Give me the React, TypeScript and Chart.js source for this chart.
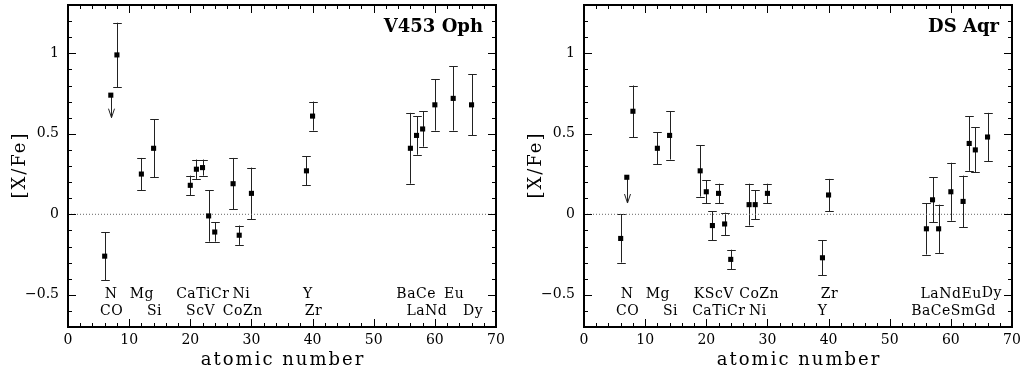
import React, { useEffect, useRef } from "react";
import { Chart, registerables } from "chart.js";

Chart.register(...registerables);

// ---------- axes ----------
const X_MIN = 0;
const X_MAX = 70;
const Y_MIN = -0.7;
const Y_MAX = 1.3;

// ---------- V453 Oph ----------
const ophDetZ = [6, 8, 12, 14, 20, 21, 22, 23, 24, 27, 28, 30, 39, 40, 56, 57, 58, 60, 63, 66];
const ophDetVal = [-0.26, 0.99, 0.25, 0.41, 0.18, 0.28, 0.29, -0.01, -0.11, 0.19, -0.13, 0.13, 0.27, 0.61, 0.41, 0.49, 0.53, 0.68, 0.72, 0.68];
const ophDetErr = [0.15, 0.2, 0.1, 0.18, 0.06, 0.06, 0.05, 0.16, 0.06, 0.16, 0.06, 0.16, 0.09, 0.09, 0.22, 0.12, 0.11, 0.16, 0.2, 0.19];
const ophLimZ = [7];
const ophLimVal = [0.74];
const ophLimTip = [0.6];
const ophLabText = ["N", "Mg", "CaTiCr", "Ni", "Y", "BaCe", "Eu", "CO", "Si", "ScV", "CoZn", "Zr", "LaNd", "Dy"];
const ophLabZ = [7.0, 12.05, 22.0, 28.3, 39.2, 56.9, 63.1, 7.1, 14.1, 21.65, 28.55, 40.1, 58.65, 66.2];
const ophLabY = [-0.5, -0.5, -0.5, -0.5, -0.5, -0.5, -0.5, -0.6, -0.6, -0.6, -0.6, -0.6, -0.6, -0.6];

// ---------- DS Aqr ----------
const aqrDetZ = [6, 8, 12, 14, 19, 20, 21, 22, 23, 24, 27, 28, 30, 39, 40, 56, 57, 58, 60, 62, 63, 64, 66];
const aqrDetVal = [-0.15, 0.64, 0.41, 0.49, 0.27, 0.14, -0.07, 0.13, -0.06, -0.28, 0.06, 0.06, 0.13, -0.27, 0.12, -0.09, 0.09, -0.09, 0.14, 0.08, 0.44, 0.4, 0.48];
const aqrDetErr = [0.15, 0.16, 0.1, 0.15, 0.16, 0.07, 0.09, 0.06, 0.07, 0.06, 0.13, 0.09, 0.06, 0.11, 0.1, 0.16, 0.14, 0.15, 0.18, 0.16, 0.17, 0.14, 0.15];
const aqrLimZ = [7];
const aqrLimVal = [0.23];
const aqrLimTip = [0.07];
const aqrLabText = ["N", "Mg", "KScV", "CoZn", "Zr", "LaNdEu", "Dy", "CO", "Si", "CaTiCr", "Ni", "Y", "BaCeSmGd"];
const aqrLabZ = [7.0, 12.05, 21.2, 28.6, 40.1, 60.0, 66.65, 7.1, 14.1, 22.0, 28.4, 39.0, 60.4];
const aqrLabY = [-0.5, -0.5, -0.5, -0.5, -0.5, -0.5, -0.49, -0.6, -0.6, -0.6, -0.6, -0.6, -0.6];

const SERIF = "'DejaVu Serif', serif";

type PanelProps = {
  title: string;
  detZ: number[];
  detVal: number[];
  detErr: number[];
  limZ: number[];
  limVal: number[];
  limTip: number[];
  labText: string[];
  labZ: number[];
  labY: number[];
  axisWidth: number;
  padRight: number;
};

function isMult(v: number, step: number) {
  const r = v / step;
  return Math.abs(r - Math.round(r)) < 1e-6;
}

function makePlugin(p: PanelProps) {
  return {
    id: "decor",
    beforeDatasetsDraw(chart: any) {
      const ctx = chart.ctx;
      const xs = chart.scales.x;
      const ys = chart.scales.y;
      ctx.save();
      ctx.strokeStyle = "#222";
      ctx.lineWidth = 1;
      for (let i = 0; i < p.detZ.length; i++) {
        const x = Math.round(xs.getPixelForValue(p.detZ[i])) + 0.5;
        const y1 = ys.getPixelForValue(p.detVal[i] + p.detErr[i]);
        const y2 = ys.getPixelForValue(p.detVal[i] - p.detErr[i]);
        ctx.beginPath();
        ctx.moveTo(x, y1);
        ctx.lineTo(x, y2);
        ctx.moveTo(x - 4.3, Math.round(y1) + 0.5);
        ctx.lineTo(x + 4.3, Math.round(y1) + 0.5);
        ctx.moveTo(x - 4.3, Math.round(y2) + 0.5);
        ctx.lineTo(x + 4.3, Math.round(y2) + 0.5);
        ctx.stroke();
      }
      for (let i = 0; i < p.limZ.length; i++) {
        const x = Math.round(xs.getPixelForValue(p.limZ[i])) + 0.5;
        const y1 = ys.getPixelForValue(p.limVal[i]);
        const y2 = ys.getPixelForValue(p.limTip[i]);
        ctx.beginPath();
        ctx.moveTo(x, y1);
        ctx.lineTo(x, y2);
        ctx.moveTo(x - 3, y2 - 9);
        ctx.lineTo(x, y2);
        ctx.lineTo(x + 3, y2 - 9);
        ctx.stroke();
      }
      ctx.restore();
    },
    afterDraw(chart: any) {
      const ctx = chart.ctx;
      const xs = chart.scales.x;
      const ys = chart.scales.y;
      const a = chart.chartArea;
      ctx.save();
      // inward ticks
      ctx.strokeStyle = "#000";
      ctx.lineWidth = 1;
      ctx.beginPath();
      for (const t of xs.ticks) {
        if (t.value <= X_MIN + 1e-6 || t.value >= X_MAX - 1e-6) continue;
        const len = isMult(t.value, 10) ? 8 : 4;
        const x = Math.round(xs.getPixelForValue(t.value)) + 0.5;
        ctx.moveTo(x, a.bottom);
        ctx.lineTo(x, a.bottom - len);
        ctx.moveTo(x, a.top);
        ctx.lineTo(x, a.top + len);
      }
      for (const t of ys.ticks) {
        if (t.value <= Y_MIN + 1e-6 || t.value >= Y_MAX - 1e-6) continue;
        const len = isMult(t.value, 0.5) ? 8 : 4;
        const y = Math.round(ys.getPixelForValue(t.value)) + 0.5;
        ctx.moveTo(a.left, y);
        ctx.lineTo(a.left + len, y);
        ctx.moveTo(a.right, y);
        ctx.lineTo(a.right - len, y);
      }
      ctx.stroke();
      // box
      ctx.lineWidth = 2;
      ctx.strokeRect(a.left, a.top, a.right - a.left, a.bottom - a.top);

      // element labels
      ctx.fillStyle = "#000";
      ctx.font = `14px ${SERIF}`;
      ctx.textAlign = "center";
      ctx.textBaseline = "middle";
      (ctx as any).letterSpacing = "0.5px";
      for (let i = 0; i < p.labText.length; i++) {
        ctx.fillText(p.labText[i], xs.getPixelForValue(p.labZ[i]) + 0.25, ys.getPixelForValue(p.labY[i]));
      }
      (ctx as any).letterSpacing = "0px";
      // panel title
      ctx.font = `bold 18px ${SERIF}`;
      ctx.textAlign = "right";
      ctx.fillText(p.title, a.right - 13, a.top + 22);

      // axis titles
      (ctx as any).letterSpacing = "2px";
      ctx.font = `18px ${SERIF}`;
      ctx.textAlign = "center";
      ctx.fillText("atomic number", (a.left + a.right) / 2 + 1, a.bottom + 33);
      ctx.translate(a.left - 48, (a.top + a.bottom) / 2);
      ctx.rotate(-Math.PI / 2);
      ctx.fillText("[X/Fe]", 1, 0);
      ctx.restore();
    },
  };
}

function Panel(p: PanelProps) {
  const ref = useRef<HTMLCanvasElement>(null);
  useEffect(() => {
    const canvas = ref.current;
    if (!canvas) return;
    const detPts = p.detZ.map((z, i) => ({ x: z, y: p.detVal[i] }));
    const limPts = p.limZ.map((z, i) => ({ x: z, y: p.limVal[i] }));
    const chart = new Chart(canvas, {
      type: "scatter",
      data: {
        datasets: [
          {
            label: "zero",
            data: [
              { x: X_MIN, y: 0 },
              { x: X_MAX, y: 0 },
            ],
            showLine: true,
            borderColor: "#666",
            borderWidth: 1,
            borderDash: [1, 2],
            pointRadius: 0,
            order: 3,
          },
          {
            label: "measured",
            data: detPts,
            pointStyle: "rect",
            pointRadius: 3.6,
            pointBackgroundColor: "#000",
            pointBorderColor: "#000",
            pointBorderWidth: 0,
            order: 1,
          },
          {
            label: "upper limit",
            data: limPts,
            pointStyle: "rect",
            pointRadius: 3.6,
            pointBackgroundColor: "#000",
            pointBorderColor: "#000",
            pointBorderWidth: 0,
            order: 2,
          },
        ],
      },
      options: {
        animation: false,
        responsive: false,
        events: [],
        layout: { padding: { left: 0, right: p.padRight, top: 5, bottom: 0 } },
        plugins: { legend: { display: false }, tooltip: { enabled: false } },
        scales: {
          x: {
            type: "linear",
            min: X_MIN,
            max: X_MAX,
            grid: { display: false, drawTicks: false },
            border: { display: false },
            ticks: {
              stepSize: 2,
              autoSkip: false,
              maxRotation: 0,
              padding: 5,
              color: "#000",
              font: { family: SERIF, size: 14 },
              callback: (v: any) => (isMult(Number(v), 10) ? String(Math.round(Number(v))) : ""),
            },
            afterFit: (s: any) => {
              s.height = 46;
              s.paddingLeft = 0;
              s.paddingRight = 0;
            },
          },
          y: {
            type: "linear",
            min: Y_MIN,
            max: Y_MAX,
            grid: { display: false, drawTicks: false },
            border: { display: false },
            ticks: {
              stepSize: 0.1,
              autoSkip: false,
              padding: 9,
              color: "#000",
              font: { family: SERIF, size: 14 },
              callback: (v: any) => {
                const n = Math.round(Number(v) * 10) / 10;
                if (!isMult(n, 0.5)) return "";
                if (Math.abs(n) < 1e-9) return "0";
                return n < 0 ? "\u2212" + String(-n) : String(n);
              },
            },
            afterFit: (s: any) => {
              s.width = p.axisWidth;
              s.paddingTop = 0;
              s.paddingBottom = 0;
            },
          },
        },
      },
      plugins: [makePlugin(p)],
    } as any);
    return () => chart.destroy();
  }, []);
  return <canvas ref={ref} width={510} height={373} style={{ display: "block", width: 510, height: 373 }} />;
}

export default function App() {
  return (
    <div style={{ position: "absolute", left: 0, top: 0, width: 1020, height: 373, display: "flex", background: "#fff" }}>
      <Panel
        title="V453 Oph"
        detZ={ophDetZ}
        detVal={ophDetVal}
        detErr={ophDetErr}
        limZ={ophLimZ}
        limVal={ophLimVal}
        limTip={ophLimTip}
        labText={ophLabText}
        labZ={ophLabZ}
        labY={ophLabY}
        axisWidth={68}
        padRight={14}
      />
      <Panel
        title="DS Aqr"
        detZ={aqrDetZ}
        detVal={aqrDetVal}
        detErr={aqrDetErr}
        limZ={aqrLimZ}
        limVal={aqrLimVal}
        limTip={aqrLimTip}
        labText={aqrLabText}
        labZ={aqrLabZ}
        labY={aqrLabY}
        axisWidth={74}
        padRight={8}
      />
    </div>
  );
}
